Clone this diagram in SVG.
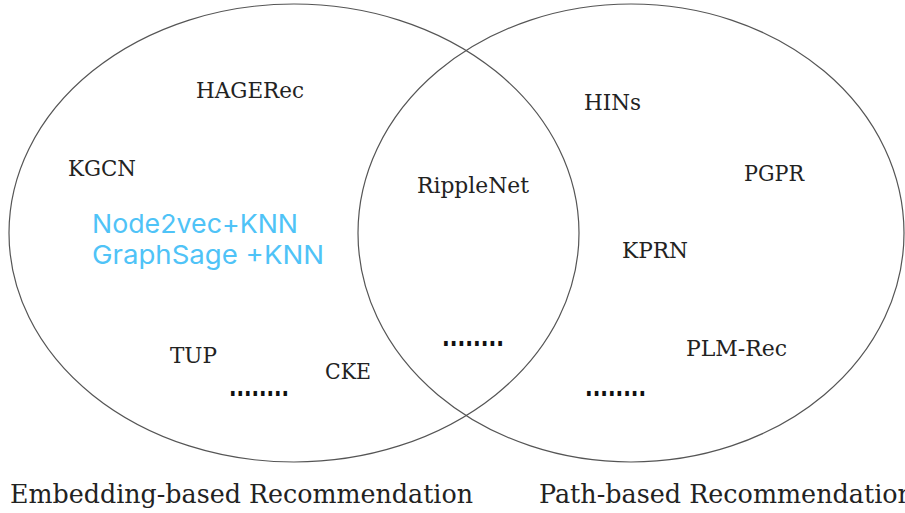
<svg xmlns="http://www.w3.org/2000/svg" width="905" height="513" viewBox="0 0 905 513">
<style>
.set{fill:none;stroke:#555;stroke-width:1.2}
.lbl{font-family:"DejaVu Serif","Liberation Serif",serif;font-size:23px;fill:#222}
.cap{font-family:"DejaVu Serif","Liberation Serif",serif;font-size:26px;fill:#222}
.blue{font-family:Inter,"Noto Sans",sans-serif;font-size:26px;fill:#4FC3F7}
.dots{font-family:"DejaVu Sans",sans-serif;font-size:26px;font-weight:bold;fill:#111}
</style>
<rect width="905" height="513" fill="#fff"/>
<g id="embedding-set">
<ellipse class="set" cx="294" cy="233" rx="285" ry="229"/>
</g>
<g id="path-set">
<ellipse class="set" cx="631" cy="233" rx="273" ry="229"/>
</g>
<g id="connectors"></g>
<g id="HAGERec"><text class="lbl" x="196" y="98" textLength="108" lengthAdjust="spacingAndGlyphs">HAGERec</text></g>
<g id="KGCN"><text class="lbl" x="68" y="176" textLength="68" lengthAdjust="spacingAndGlyphs">KGCN</text></g>
<g id="Node2vec"><text class="blue" x="92" y="233" textLength="206" lengthAdjust="spacingAndGlyphs">Node2vec+KNN</text></g>
<g id="GraphSage"><text class="blue" x="92" y="264" textLength="232" lengthAdjust="spacingAndGlyphs">GraphSage +KNN</text></g>
<g id="TUP"><text class="lbl" x="170" y="363" textLength="47" lengthAdjust="spacingAndGlyphs">TUP</text></g>
<g id="CKE"><text class="lbl" x="325" y="379" textLength="46" lengthAdjust="spacingAndGlyphs">CKE</text></g>
<g id="dots-left"><text class="dots" x="229" y="396" textLength="60" lengthAdjust="spacingAndGlyphs">........</text></g>
<g id="RippleNet"><text class="lbl" x="417" y="193" textLength="112" lengthAdjust="spacingAndGlyphs">RippleNet</text></g>
<g id="dots-center"><text class="dots" x="442" y="346" textLength="62" lengthAdjust="spacingAndGlyphs">........</text></g>
<g id="HINs"><text class="lbl" x="584" y="110" textLength="57" lengthAdjust="spacingAndGlyphs">HINs</text></g>
<g id="PGPR"><text class="lbl" x="744" y="181" textLength="60" lengthAdjust="spacingAndGlyphs">PGPR</text></g>
<g id="KPRN"><text class="lbl" x="622" y="258" textLength="66" lengthAdjust="spacingAndGlyphs">KPRN</text></g>
<g id="PLM-Rec"><text class="lbl" x="686" y="356" textLength="101" lengthAdjust="spacingAndGlyphs">PLM-Rec</text></g>
<g id="dots-right"><text class="dots" x="585" y="396" textLength="61" lengthAdjust="spacingAndGlyphs">........</text></g>
<g id="caption-embedding"><text class="cap" x="10" y="503" textLength="463" lengthAdjust="spacingAndGlyphs">Embedding-based Recommendation</text></g>
<g id="caption-path"><text class="cap" x="539" y="503" textLength="375" lengthAdjust="spacingAndGlyphs">Path-based Recommendation</text></g>
</svg>
